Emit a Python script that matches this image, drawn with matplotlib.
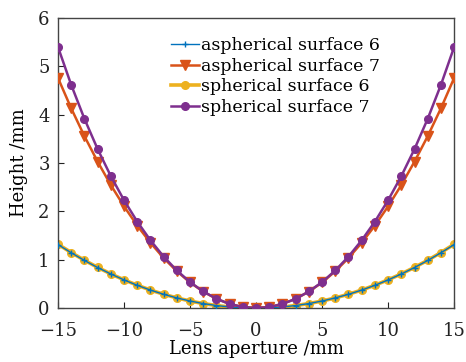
import matplotlib.pyplot as plt

# lens aperture positions (mm)
aperture = list(range(-15, 16))

# half profiles 0..15 mm (symmetric about 0)
sph7_half = [0.0, 0.021, 0.085, 0.192, 0.343, 0.537, 0.778, 1.065, 1.402,
             1.789, 2.231, 2.73, 3.29, 3.917, 4.618, 5.40]
asph7_half = [0.0, 0.021, 0.085, 0.191, 0.340, 0.529, 0.762, 1.035, 1.350,
              1.706, 2.105, 2.545, 3.03, 3.557, 4.132, 4.76]
sph6_half = [0.0, 0.006, 0.023, 0.052, 0.093, 0.146, 0.210, 0.286, 0.373,
             0.473, 0.584, 0.707, 0.842, 0.989, 1.149, 1.320]
asph6_half = [0.0, 0.006, 0.023, 0.052, 0.093, 0.146, 0.210, 0.285, 0.372,
              0.471, 0.582, 0.705, 0.839, 0.985, 1.144, 1.314]

def mirror(h):
    return h[:0:-1] + h

sph7 = mirror(sph7_half)
asph7 = mirror(asph7_half)
sph6 = mirror(sph6_half)
asph6 = mirror(asph6_half)

plt.rcParams['font.family'] = ['DejaVu Serif']
plt.rcParams['mathtext.fontset'] = 'dejavuserif'

fig = plt.figure(figsize=(4.66, 3.62), dpi=100)
ax = fig.add_axes([0.1245, 0.149, 0.850, 0.801])

ax.plot(aperture, sph6, color='#EDB120', marker='o', ms=5.5, lw=2.6,
        label='spherical surface 6', zorder=2)
ax.plot(aperture, asph6, color='#0072BD', marker='+', ms=4, lw=1,
        label='aspherical surface 6', zorder=3)
ax.plot(aperture, asph7, color='#D95319', marker='v', ms=7.5, lw=1.8,
        label='aspherical surface 7', zorder=4)
ax.plot(aperture, sph7, color='#7E2F8E', marker='o', ms=5.5, lw=1.8,
        label='spherical surface 7', zorder=5)

ax.set_xlim(-15, 15)
ax.set_ylim(0, 6)
ax.set_xticks([-15, -10, -5, 0, 5, 10, 15])
ax.set_yticks([0, 1, 2, 3, 4, 5, 6])
ax.tick_params(direction='in', length=4, labelsize=13, colors='#222222')
ax.tick_params(axis='x', pad=10)
ax.tick_params(axis='y', pad=6)
for s in ax.spines.values():
    s.set_color('#444444')
    s.set_linewidth(1)

ax.set_xlabel('Lens aperture /mm', fontsize=13, labelpad=0)
ax.set_ylabel('Height /mm', fontsize=13, labelpad=7)

h, l = ax.get_legend_handles_labels()
order = [1, 2, 0, 3]
ax.legend([h[i] for i in order], [l[i] for i in order], frameon=False,
          loc='upper left', bbox_to_anchor=(0.26, 0.97), fontsize=12.5,
          handlelength=1.6, handletextpad=0.1, labelspacing=0.2,
          borderaxespad=0.2)

fig.savefig('out.png', dpi=100)
